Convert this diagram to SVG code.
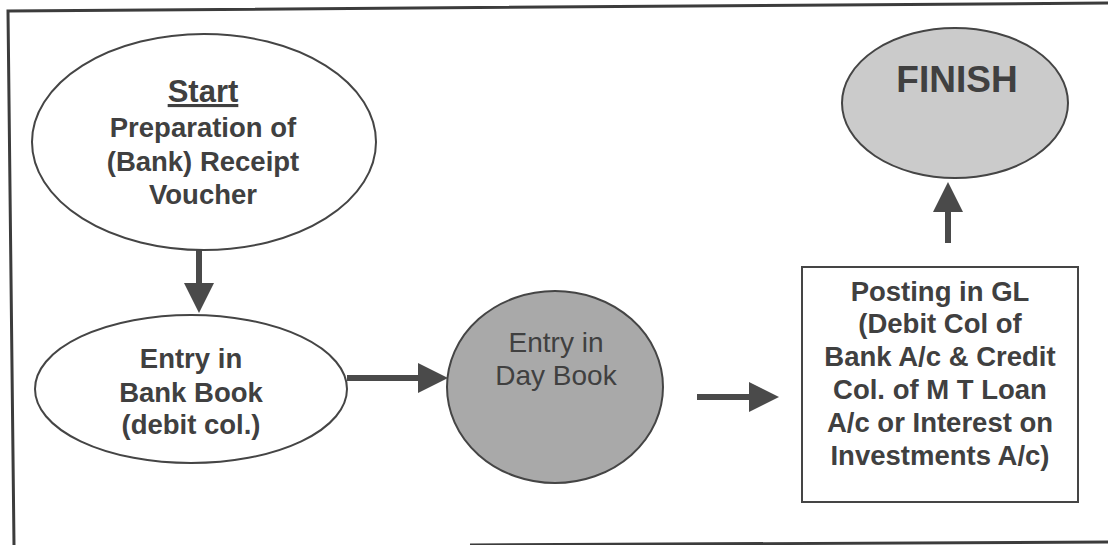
<svg xmlns="http://www.w3.org/2000/svg" width="1108" height="545" viewBox="0 0 1108 545">
<style>
.t{font-family:"Liberation Sans",Arial,sans-serif;font-size:27.5px;font-weight:bold;fill:#404040;text-anchor:middle}
.r{font-weight:normal;font-size:28px}
.shape{stroke:#454545;stroke-width:2}
.conn{stroke:#4a4a4a;stroke-width:6;fill:none}
.border{stroke:#3c3c3c;stroke-width:3;fill:none}
</style>
<defs>
<marker id="ah" markerUnits="userSpaceOnUse" markerWidth="30" markerHeight="30" viewBox="0 0 30 30" refX="1" refY="15" orient="auto">
<path d="M0,0 L30,15 L0,30 z" fill="#4a4a4a"/>
</marker>
</defs>
<rect x="0" y="0" width="1108" height="545" fill="#ffffff"/>
<g id="frame">
<path class="border" d="M1108,3 L8,11 L14,545"/>
<path class="border" d="M470,545 L1108,542"/>
</g>
<g id="connectors">
<line class="conn" x1="199" y1="250" x2="199" y2="284" marker-end="url(#ah)"/>
<line class="conn" x1="347" y1="378" x2="419" y2="378" marker-end="url(#ah)"/>
<line class="conn" x1="697" y1="397" x2="750" y2="397" marker-end="url(#ah)"/>
<line class="conn" x1="948" y1="243" x2="948" y2="211" marker-end="url(#ah)"/>
</g>
<g id="start">
<ellipse class="shape" cx="204" cy="142" rx="172" ry="108" fill="#ffffff"/>
<text class="t" x="203" y="102" text-decoration="underline" style="font-size:31px">Start</text>
<text class="t" x="203" y="137">Preparation of</text>
<text class="t" x="203" y="171">(Bank) Receipt</text>
<text class="t" x="203" y="204">Voucher</text>
</g>
<g id="bankbook">
<ellipse class="shape" cx="191" cy="389" rx="156" ry="74" fill="#ffffff"/>
<text class="t" x="191" y="368">Entry in</text>
<text class="t" x="191" y="402">Bank Book</text>
<text class="t" x="191" y="434">(debit col.)</text>
</g>
<g id="daybook">
<ellipse class="shape" cx="555" cy="387" rx="108" ry="96" fill="#a9a9a9"/>
<text class="t r" x="556" y="352">Entry in</text>
<text class="t r" x="556" y="385">Day Book</text>
</g>
<g id="postinggl">
<rect class="shape" x="802" y="267" width="276" height="235" fill="#ffffff"/>
<text class="t" x="940" y="301">Posting in GL</text>
<text class="t" x="940" y="333">(Debit Col of</text>
<text class="t" x="940" y="366">Bank A/c &amp; Credit</text>
<text class="t" x="940" y="399">Col. of M T Loan</text>
<text class="t" x="940" y="432">A/c or Interest on</text>
<text class="t" x="940" y="465">Investments A/c)</text>
</g>
<g id="finish">
<ellipse class="shape" cx="955" cy="103" rx="113" ry="75" fill="#cbcbcb"/>
<text class="t" x="957" y="92" style="font-size:37px">FINISH</text>
</g>
</svg>
